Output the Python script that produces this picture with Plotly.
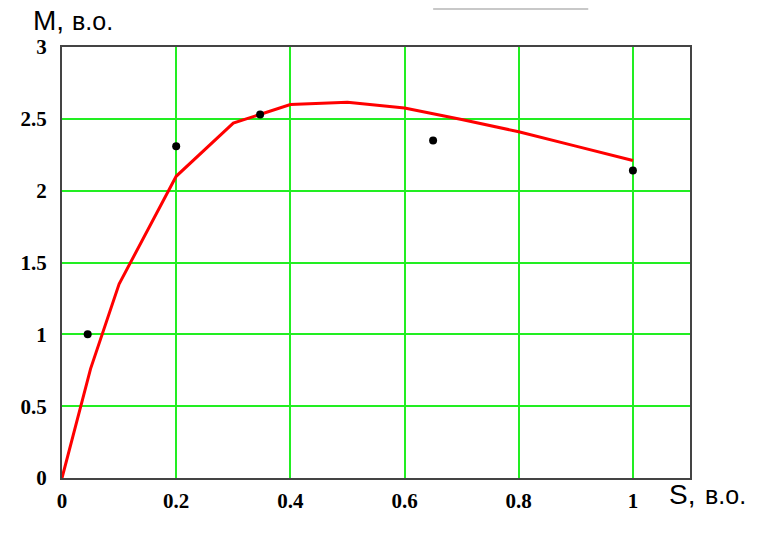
import plotly.graph_objects as go

# Red curve M(S)
curve_s = [0, 0.05, 0.1, 0.2, 0.3, 0.4, 0.5, 0.6, 0.7, 0.8, 0.9, 1.0]
curve_m = [0, 0.76, 1.35, 2.10, 2.47, 2.60, 2.615, 2.575, 2.495, 2.41, 2.31, 2.21]

# Black measured points
pts_s = [0.045, 0.2, 0.347, 0.65, 1.0]
pts_m = [1.0, 2.31, 2.53, 2.35, 2.14]

x_ticks = [0, 0.2, 0.4, 0.6, 0.8, 1]
x_tick_text = ["0", "0.2", "0.4", "0.6", "0.8", "1"]
y_ticks = [0, 0.5, 1, 1.5, 2, 2.5, 3]
y_tick_text = ["0", "0.5", "1", "1.5", "2", "2.5", "3"]

fig = go.Figure()
fig.add_trace(go.Scatter(x=curve_s, y=curve_m, mode="lines",
                         line=dict(color="#ff0000", width=3), showlegend=False))
fig.add_trace(go.Scatter(x=pts_s, y=pts_m, mode="markers",
                         marker=dict(color="black", size=8), showlegend=False))

tickfont = dict(family="Liberation Serif, 'Times New Roman', serif", size=21,
                color="black", weight="bold")
fig.update_xaxes(range=[0, 1.1], tickvals=x_ticks, ticktext=x_tick_text,
                 showgrid=True, gridcolor="#22ee22", gridwidth=1.5,
                 zeroline=False, showline=True, linecolor="#444444", linewidth=2,
                 mirror=True, ticks="", tickfont=tickfont, ticklabelstandoff=3)
fig.update_yaxes(range=[0, 3], tickvals=y_ticks, ticktext=y_tick_text,
                 showgrid=True, gridcolor="#22ee22", gridwidth=1.5,
                 zeroline=False, showline=True, linecolor="#444444", linewidth=2,
                 mirror=True, ticks="", tickfont=tickfont, ticklabelstandoff=9)

bigfont = dict(family="Liberation Sans, Arial, sans-serif", size=28, color="black")
smallfont = dict(family="Liberation Sans, Arial, sans-serif", size=25, color="black")
fig.update_layout(
    width=759, height=537,
    margin=dict(l=54, r=77, t=39, b=67),
    plot_bgcolor="white", paper_bgcolor="white",
    annotations=[
        dict(text="M,", xref="paper", yref="paper",
             x=-0.05, y=1.02, xanchor="left", yanchor="bottom", showarrow=False,
             font=bigfont),
        dict(text="в.о.", xref="paper", yref="paper",
             x=0.012, y=1.024, xanchor="left", yanchor="bottom", showarrow=False,
             font=smallfont),
        dict(text="S,", xref="paper", yref="paper",
             x=0.963, y=-0.08, xanchor="left", yanchor="bottom", showarrow=False,
             font=bigfont),
        dict(text="в.о.", xref="paper", yref="paper",
             x=1.02, y=-0.076, xanchor="left", yanchor="bottom", showarrow=False,
             font=smallfont),
    ],
    shapes=[dict(type="line", xref="paper", yref="paper", x0=0.591, x1=0.838,
                 y0=1.088, y1=1.088, line=dict(color="#c8c8c8", width=2))],
)

fig.write_html("out.html")
